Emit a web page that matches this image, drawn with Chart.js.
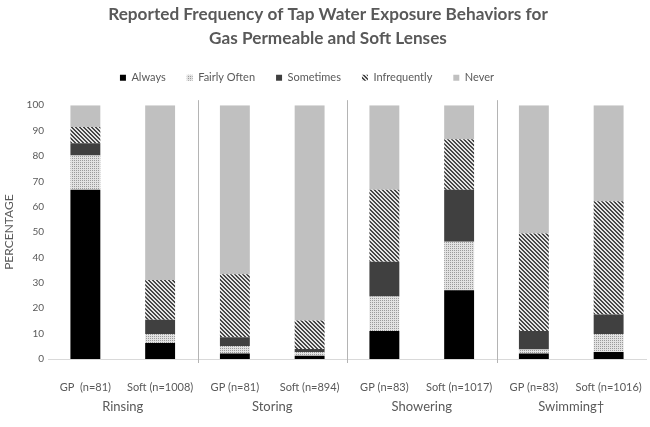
<!DOCTYPE html>
<html>
<head>
<meta charset="utf-8">
<script src="https://cdn.jsdelivr.net/npm/chart.js@4"></script>
<style>
  body { margin: 0; background: #fff; }
  #wrap { width: 650px; height: 427px; }
</style>
</head>
<body>
<div id="wrap"><canvas id="chart" width="650" height="427"></canvas></div>
<script>
// Tap water exposure chart data (percent of respondents)
const categories = ['Rinsing', 'Storing', 'Showering', 'Swimming\u2020'];
const barLabels = ['GP  (n=81)', 'Soft (n=1008)', 'GP (n=81)', 'Soft (n=894)',
                   'GP (n=83)', 'Soft (n=1017)', 'GP (n=83)', 'Soft (n=1016)'];
const seriesNames = ['Always', 'Fairly Often', 'Sometimes', 'Infrequently', 'Never'];
const always       = [66.7, 6.3, 2.2, 1.3, 11.0, 27.1, 2.2, 2.8];
const fairlyOften  = [13.5, 3.5, 2.9, 1.5, 13.6, 19.1, 1.5, 7.0];
const sometimes    = [4.8, 5.7, 3.5, 1.1, 13.7, 20.5, 7.3, 7.7];
const infrequently = [6.4, 15.6, 24.8, 11.3, 28.4, 19.9, 38.4, 44.6];
const never        = [8.6, 68.9, 66.6, 84.8, 33.3, 13.4, 50.6, 37.9];
const yTicks = [0, 10, 20, 30, 40, 50, 60, 70, 80, 90, 100];

const textColor = '#595959';
const fontFamily = 'Lato, "Open Sans", sans-serif';

// small canvas tiles for the hatched fills
function makePattern(size, draw) {
  const c = document.createElement('canvas');
  c.width = size;
  c.height = size;
  const g = c.getContext('2d');
  draw(g, size);
  return g.createPattern(c, 'repeat');
}

const dotted = makePattern(2, (g) => {
  g.fillStyle = '#e2e2e2';
  g.fillRect(0, 0, 2, 2);
  g.fillStyle = '#9a9a9a';
  g.fillRect(0, 0, 1, 1);
});

const striped = makePattern(4, (g, s) => {
  g.fillStyle = '#e4e4e4';
  g.fillRect(0, 0, s, s);
  g.fillStyle = '#474747';
  for (let y = 0; y < s; y++) {
    for (let x = 0; x < s; x++) {
      if ((((x - y) % 4) + 4) % 4 < 2) g.fillRect(x, y, 1, 1);
    }
  }
});

const fills = ['#000000', dotted, '#404040', striped, '#c0c0c0'];
const values = [always, fairlyOften, sometimes, infrequently, never];

// vertical lines between the behaviour groups
const separators = {
  id: 'separators',
  afterLayout(chart) {
    // legend and title sit a little off centre in the original
    chart.legend.left -= 16;
    chart.legend.right -= 16;
    chart.titleBlock.left += 5;
    chart.titleBlock.right += 5;
  },
  afterDatasetsDraw(chart) {
    const x = chart.scales.x;
    const area = chart.chartArea;
    const ctx = chart.ctx;
    ctx.save();
    ctx.strokeStyle = '#b4b4b4';
    ctx.lineWidth = 1;
    for (let i = 1; i < barLabels.length - 1; i += 2) {
      const px = Math.round((x.getPixelForValue(i) + x.getPixelForValue(i + 1)) / 2) + 0.5;
      ctx.beginPath();
      ctx.moveTo(px, area.top - 5);
      ctx.lineTo(px, area.bottom + 4);
      ctx.stroke();
    }
    ctx.restore();
  }
};

// bottom axes: fixed heights, no side padding
function fixBottom(h) {
  return (scale) => {
    scale.height = h;
    scale.paddingLeft = 0;
    scale.paddingRight = 0;
  };
}

const ctx = document.getElementById('chart').getContext('2d');
new Chart(ctx, {
  type: 'bar',
  data: {
    labels: barLabels,
    datasets: seriesNames.map((name, i) => ({
      label: name,
      data: values[i],
      backgroundColor: fills[i],
      borderWidth: 0,
      barPercentage: 0.4,
      categoryPercentage: 1.0
    }))
  },
  options: {
    responsive: false,
    animation: false,
    devicePixelRatio: 1,
    layout: { padding: { left: 0, right: 4, top: 0, bottom: 8 } },
    plugins: {
      title: {
        display: true,
        text: ['Reported Frequency of Tap Water Exposure Behaviors for',
               'Gas Permeable and Soft Lenses'],
        color: textColor,
        font: { family: fontFamily, size: 17.2, weight: 'bold', lineHeight: 1.4 },
        padding: { top: 2, bottom: 1 }
      },
      // empty spacer between legend and plot
      subtitle: {
        display: true,
        text: '',
        weight: 500,
        font: { size: 10, lineHeight: 1.2 },
        padding: 0
      },
      legend: {
        position: 'top',
        labels: {
          color: textColor,
          font: { family: fontFamily, size: 11 },
          boxWidth: 6,
          boxHeight: 6,
          padding: 21
        }
      },
      tooltip: { enabled: false }
    },
    scales: {
      x: {
        stacked: true,
        afterFit: fixBottom(36),
        grid: { display: false, drawTicks: false },
        border: { display: true, color: '#d9d9d9' },
        ticks: {
          color: textColor,
          font: { family: fontFamily, size: 11 },
          maxRotation: 0,
          autoSkip: false,
          padding: 22
        }
      },
      x2: {
        type: 'category',
        labels: categories,
        position: 'bottom',
        offset: true,
        afterFit: fixBottom(24),
        grid: { display: false, drawTicks: false },
        border: { display: false },
        ticks: {
          color: textColor,
          font: { family: fontFamily, size: 13 },
          padding: 4
        }
      },
      y: {
        stacked: true,
        min: 0,
        max: 100,
        afterBuildTicks: (scale) => { scale.ticks = yTicks.map(v => ({ value: v })); },
        afterFit: (scale) => { scale.width = 48; },
        grid: { display: false, drawTicks: false },
        border: { display: false },
        ticks: {
          color: textColor,
          font: { family: fontFamily, size: 10 },
          padding: 4
        },
        title: {
          display: true,
          text: 'PERCENTAGE',
          color: textColor,
          font: { family: fontFamily, size: 12 },
          padding: { top: 2, bottom: 0 }
        }
      }
    }
  },
  plugins: [separators]
});
</script>
</body>
</html>
